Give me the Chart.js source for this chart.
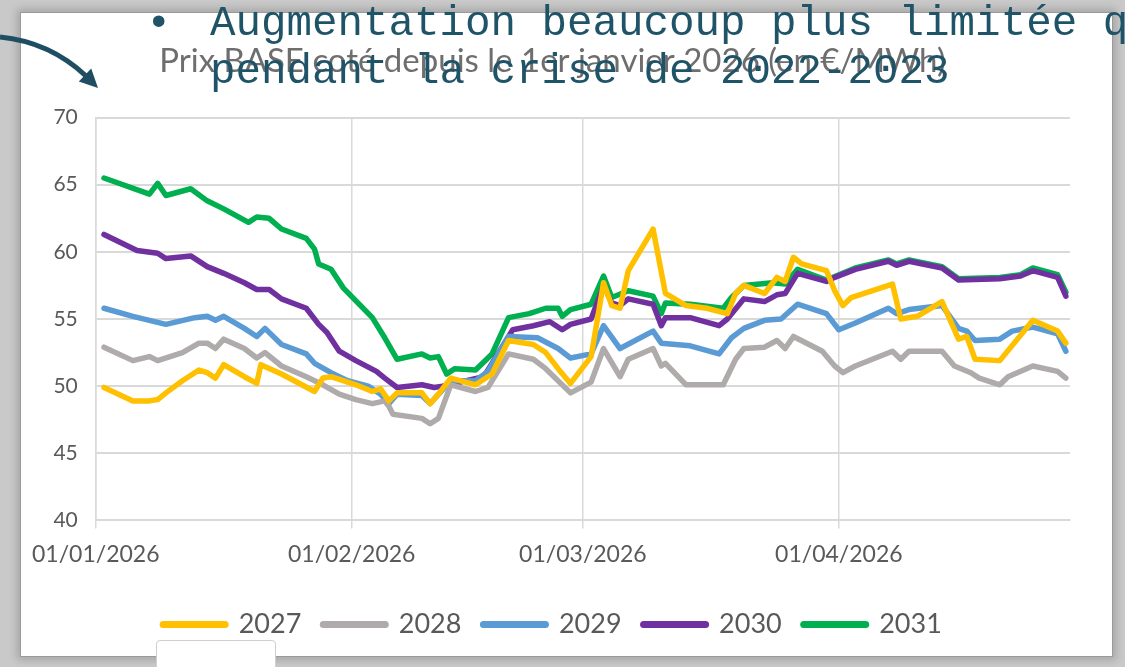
<!DOCTYPE html>
<html><head><meta charset="utf-8">
<script src="https://cdn.jsdelivr.net/npm/chart.js@4.4.0/dist/chart.umd.min.js"></script>
<style>
html,body{margin:0;padding:0;width:1125px;height:667px;overflow:hidden;background:#c9c9c9;}
#panel{position:absolute;left:20px;top:12px;width:1091px;height:643px;background:#fff;border:1px solid #9a9a9a;box-shadow:0 0 8px 3px rgba(0,0,0,0.18);}
#chartbox{position:absolute;left:20px;top:12px;width:1092px;height:644px;}
.ov{position:absolute;font-family:'Liberation Mono','DejaVu Sans Mono',monospace;font-size:42.5px;line-height:48px;color:#1F5468;white-space:nowrap;}
#smallbox{position:absolute;left:156px;top:640px;width:118px;height:30px;background:#fff;border:1px solid #cfcfcf;border-radius:4px;}
</style></head>
<body>
<div id="panel"></div>
<div id="chartbox"><canvas id="c" width="1092" height="644"></canvas></div>
<div id="smallbox"></div>
<div class="ov" style="left:146px;top:0px;">•</div>
<div class="ov" style="left:210px;top:0px;">Augmentation beaucoup plus limitée q</div>
<div class="ov" style="left:210px;top:48px;">pendant la crise de 2022-2023</div>
<svg style="position:absolute;left:0;top:0" width="120" height="110">
  <path d="M0,37 Q50,42 86,76" fill="none" stroke="#1F4E63" stroke-width="5"/>
  <polygon points="98,88 78.8,81.6 91.2,68.4" fill="#1F4E63"/>
</svg>
<script>
const chartTitle = 'Prix BASE coté depuis le 1er janvier 2026 (en €/MWh)';
const tickDays = [0, 31, 59, 90];
const tickLabels = ['01/01/2026', '01/02/2026', '01/03/2026', '01/04/2026'];
const seriesNames = ['2027', '2028', '2029', '2030', '2031'];
const seriesColors = ['#FFC000', '#AFABAB', '#5B9BD5', '#7030A0', '#00B050'];

const d2027 = [1,4.5,6.5,7.5,8.5,10.5,12.5,13.5,14.5,15.5,18,19.5,20,22.5,26.5,27.5,28.5,31.5,33.5,34.5,35.5,36.5,39.5,40.5,41.5,43,46,48,50,53,54.5,56,57.5,60,61.5,62.5,63.5,64.5,67.5,69,71.5,74,76.5,77.5,78.5,81,82.5,83.5,84.5,85.5,88.5,89.5,90.5,91.5,96.5,97.5,99.5,102.5,104.5,105.5,106.5,109.5,113.5,116.5,117.5];
const v2027 = [49.9,48.9,48.9,49.0,49.5,50.4,51.2,51.0,50.6,51.6,50.7,50.2,51.6,50.9,49.6,50.6,50.7,50.1,49.6,49.8,48.9,49.5,49.5,48.7,49.4,50.6,50.1,50.9,53.4,53.1,52.5,51.3,50.2,52.2,57.7,56.0,55.8,58.6,61.7,56.9,56.0,55.8,55.4,56.9,57.5,56.9,58.1,57.8,59.6,59.1,58.6,57.1,56.0,56.6,57.6,55.0,55.2,56.3,53.5,53.7,52.0,51.9,54.9,54.1,53.2];

const d2028 = [1,4.5,6.5,7.5,10.5,12.5,13.5,14.5,15.5,18,19.5,20.5,22.5,25.5,27.5,29.5,31.5,33.5,35,35.5,36,39.5,40.5,41.5,43,46,47.5,50,53,54.5,57.5,60,61.5,63.5,64.5,67.5,68.5,69,71.5,76,77.5,78.5,81,82.5,83.5,84.5,88,89.5,90.5,92,96.5,97.5,98.5,102.5,104,106,107,109.5,110.5,113.5,116.5,117.5];
const v2028 = [52.9,51.9,52.2,51.9,52.5,53.2,53.2,52.8,53.5,52.8,52.1,52.5,51.5,50.7,50.1,49.4,49.0,48.7,48.9,48.5,47.9,47.6,47.2,47.6,50.1,49.6,49.9,52.4,52.0,51.3,49.5,50.3,52.8,50.7,52.0,52.8,51.5,51.7,50.1,50.1,52.0,52.8,52.9,53.4,52.8,53.7,52.6,51.5,51.0,51.5,52.6,52.0,52.6,52.6,51.5,51.0,50.6,50.1,50.7,51.5,51.1,50.6];

const d2029 = [1,4.5,6.5,8.5,12,13.5,14.5,15.5,18,19.5,20.5,22.5,25.5,26.5,28.5,30.5,33,34.5,35.5,36.5,39.5,40.5,43,46,47.5,50,53.5,56,57.5,60,61.5,63.5,67.5,68.5,72,75.5,77,78.5,81,83,85,88.5,90,92,96,97,98.5,102.5,104.5,105.5,106.5,109.5,111,113.5,116.5,117.5];
const v2029 = [55.8,55.2,54.9,54.6,55.1,55.2,54.9,55.2,54.3,53.7,54.3,53.1,52.4,51.7,51.0,50.4,50.0,49.4,48.7,49.4,49.3,48.7,50.4,50.4,51.1,53.7,53.6,52.8,52.1,52.4,54.5,52.8,54.1,53.2,53.0,52.4,53.6,54.3,54.9,55.0,56.1,55.4,54.2,54.7,55.8,55.4,55.7,56.0,54.3,54.1,53.4,53.5,54.1,54.4,53.9,52.6];

const d2030 = [1,5,7.5,8.5,11.5,13.5,15.5,18,19.5,21,22.5,25.5,27,28,29.5,31.5,34,35,36.5,39.5,41,42,47,48.5,50.5,53,55,56.5,57.5,60,61.5,62.5,63.5,64.5,67.5,68.5,69,72,75.5,76.5,78.5,81,82.5,83.5,85,88.5,89.5,92,96,97,98.5,102.5,104.5,109.5,112,113.5,116.5,117.5];
const v2030 = [61.3,60.1,59.9,59.5,59.7,58.9,58.4,57.7,57.2,57.2,56.5,55.8,54.6,54.0,52.6,51.9,51.1,50.6,49.9,50.1,49.9,50.0,50.7,52.2,54.2,54.5,54.8,54.2,54.6,55.0,57.5,56.2,56.0,56.5,56.1,54.5,55.1,55.1,54.5,55.0,56.5,56.3,56.8,56.9,58.4,57.8,58.1,58.7,59.3,59.0,59.3,58.8,57.9,58.0,58.2,58.6,58.1,56.7];

const d2031 = [1,6.5,7.5,8.5,11.5,13.5,15.5,18.5,19.5,21,22.5,25.5,26.5,27,28.5,30,33.5,35,36.5,39.5,40.5,41.5,42.5,43.5,46,48,50,52.5,54.5,56,56.5,57.5,60,61.5,62.5,64.5,67.5,68.5,69,72,76,77,78.5,82,83.5,85,88.5,92,96,97,98.5,102.5,104.5,109.5,112,113.5,116.5,117.5];
const v2031 = [65.5,64.3,65.1,64.2,64.7,63.8,63.2,62.2,62.6,62.5,61.7,61.0,60.2,59.1,58.7,57.3,55.1,53.6,52.0,52.4,52.1,52.2,50.9,51.3,51.2,52.4,55.1,55.4,55.8,55.8,55.2,55.7,56.1,58.2,56.6,57.1,56.7,55.4,56.2,56.1,55.8,56.6,57.5,57.7,57.6,58.7,57.9,58.8,59.4,59.1,59.4,58.9,58.0,58.1,58.3,58.8,58.3,57.0];

const allDays = [d2027, d2028, d2029, d2030, d2031];
const allVals = [v2027, v2028, v2029, v2030, v2031];

const datasets = seriesNames.map((name, i) => ({
  label: name,
  data: allDays[i].map((d, k) => ({ x: d, y: allVals[i][k] })),
  borderColor: seriesColors[i],
  backgroundColor: seriesColors[i],
  borderWidth: 5.5,
  pointRadius: 0,
  tension: 0,
  borderCapStyle: 'round',
  borderJoinStyle: 'round',
  fill: false
}));

const txt = '#595959';
const grid = '#D9D9D9';

new Chart(document.getElementById('c'), {
  type: 'line',
  data: { datasets },
  options: {
    responsive: false,
    animation: false,
    devicePixelRatio: 1,
    layout: { padding: { left: 15, right: 42, top: 20, bottom: 8 } },
    plugins: {
      title: {
        display: true, text: chartTitle, color: '#6E6E6E',
        font: { family: 'Lato', size: 33, weight: 'normal' },
        padding: { top: 10, bottom: 36 }
      },
      legend: {
        position: 'bottom',
        labels: {
          usePointStyle: true, pointStyle: 'line', pointStyleWidth: 62,
          color: txt, font: { family: 'Lato', size: 27 }, padding: 22,
          generateLabels(chart) {
            const items = Chart.defaults.plugins.legend.labels.generateLabels(chart);
            items.forEach(it => { it.lineWidth = 7; it.pointStyle = 'line'; it.lineCap = 'round'; });
            return items;
          }
        }
      },
      tooltip: { enabled: false }
    },
    scales: {
      x: {
        type: 'linear', min: 0, max: 118,
        afterBuildTicks: s => { s.ticks = tickDays.map(v => ({ value: v })); },
        afterFit: s => { s.height += 9; },
        ticks: {
          autoSkip: false, maxRotation: 0, padding: 12, color: txt,
          font: { family: 'Lato', size: 23 },
          callback: v => tickLabels[tickDays.indexOf(v)]
        },
        grid: { color: grid, lineWidth: 1.5, tickLength: 8, drawTicks: true },
        border: { color: grid, width: 2 }
      },
      y: {
        min: 40, max: 70,
        ticks: { stepSize: 5, padding: 18, color: txt, font: { family: 'Lato', size: 21 } },
        grid: { color: grid, lineWidth: 2, drawTicks: false },
        border: { color: grid, width: 1.5 }
      }
    }
  }
});
</script>
</body></html>
